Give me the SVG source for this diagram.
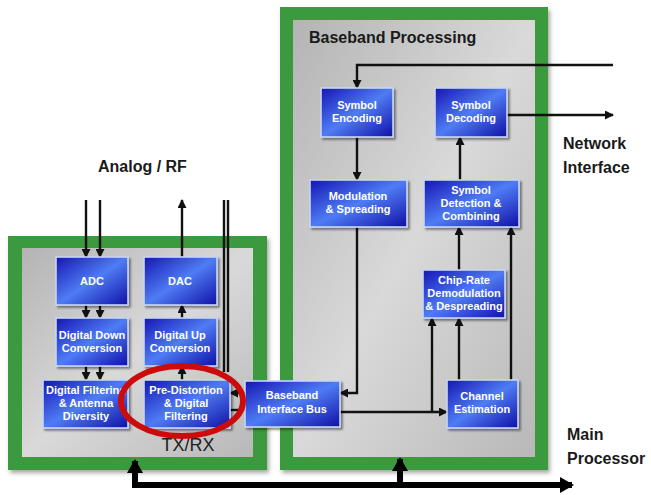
<svg xmlns="http://www.w3.org/2000/svg" width="651" height="495" viewBox="0 0 651 495">
  <style>
    .frame { fill: #3a9a3c; }
    .panel { fill: url(#panelGrad); }
    .blk { fill: url(#blkGrad); stroke: #c9d6f2; stroke-width: 1.6; filter: url(#shadow); }
    .blk-t { font-family: "Liberation Sans", Arial, sans-serif; font-weight: bold; font-size: 11px; fill: #ffffff; text-anchor: middle; }
    .lbl { font-family: "Liberation Sans", Arial, sans-serif; font-weight: bold; font-size: 16px; fill: #1a1a1a; }
    .wire { fill: none; stroke: #111; stroke-width: 2.4; }
    .arr { marker-end: url(#head); }
    .bus { fill: none; stroke: #000; stroke-width: 6; }
  </style>
  <defs>
    <linearGradient id="blkGrad" x1="0" y1="0" x2="1" y2="1">
      <stop offset="0" stop-color="#1616b4"/>
      <stop offset="0.5" stop-color="#4f7cf4"/>
      <stop offset="1" stop-color="#1010a6"/>
    </linearGradient>
    <linearGradient id="panelGrad" x1="0" y1="0" x2="1" y2="1">
      <stop offset="0" stop-color="#b4b4b4"/>
      <stop offset="0.5" stop-color="#d9d9d9"/>
      <stop offset="1" stop-color="#b8b8b8"/>
    </linearGradient>
    <filter id="shadow" x="-10%" y="-10%" width="130%" height="130%">
      <feDropShadow dx="2" dy="2" stdDeviation="1.2" flood-color="#000" flood-opacity="0.45"/>
    </filter>
    <filter id="frameShadow" x="-5%" y="-5%" width="115%" height="115%">
      <feDropShadow dx="2" dy="3" stdDeviation="2" flood-color="#000" flood-opacity="0.35"/>
    </filter>
    <marker id="head" markerUnits="userSpaceOnUse" markerWidth="9" markerHeight="9" refX="8" refY="4.5" orient="auto">
      <path d="M0,0 L9,4.5 L0,9 z" fill="#111"/>
    </marker>
    <marker id="bigHead" markerUnits="userSpaceOnUse" markerWidth="14" markerHeight="16" refX="12" refY="8" orient="auto">
      <path d="M0,0 L14,8 L0,16 z" fill="#000"/>
    </marker>
  </defs>

  <rect width="651" height="495" fill="#ffffff"/>

  <!-- TX/RX frame -->
  <g id="txrx">
    <rect class="frame" x="8" y="236" width="259" height="234" filter="url(#frameShadow)"/>
    <rect class="panel" x="22" y="248" width="231" height="209"/>
    <text x="188" y="451" font-family="Liberation Sans, Arial, sans-serif" font-size="18" fill="#222" text-anchor="middle">TX/RX</text>
  </g>

  <!-- Baseband frame -->
  <g id="baseband">
    <rect class="frame" x="280" y="7" width="268" height="463" filter="url(#frameShadow)"/>
    <rect class="panel" x="293" y="20" width="242" height="437"/>
    <text x="309" y="43" class="lbl" font-size="17">Baseband Processing</text>
  </g>

  <!-- External labels -->
  <g id="labels">
    <text x="98" y="172" class="lbl">Analog / RF</text>
    <text x="563" y="149" class="lbl">Network</text>
    <text x="563" y="173" class="lbl">Interface</text>
    <text x="567" y="440" class="lbl">Main</text>
    <text x="567" y="464" class="lbl">Processor</text>
  </g>

  <!-- Connectors -->
  <g id="connectors">
    <path class="wire arr" d="M613,65 H357 V88"/>
    <path class="wire arr" d="M507,115 H613"/>
    <path class="wire arr" d="M357,137 V180"/>
    <path class="wire arr" d="M460,180 V137"/>
    <path class="wire arr" d="M357,227 V393 H340"/>
    <path class="wire arr" d="M340,412 H447"/>
    <path class="wire arr" d="M432,412 V318"/>
    <path class="wire arr" d="M459,380 V318"/>
    <path class="wire arr" d="M459,270 V227"/>
    <path class="wire arr" d="M511,380 V227"/>

    <path class="wire arr" d="M86,200 V257"/>
    <path class="wire arr" d="M100,200 V257"/>
    <path class="wire arr" d="M86,305 V318"/>
    <path class="wire arr" d="M100,305 V318"/>
    <path class="wire arr" d="M86,366 V380"/>
    <path class="wire arr" d="M100,366 V380"/>
    <path class="wire arr" d="M182,257 V200"/>
    <path class="wire arr" d="M182,318 V305"/>
    <path class="wire arr" d="M182,380 V366"/>
    <path class="wire" stroke-width="1.6" d="M224,200 V372 M228,200 V372"/>
    <path class="wire arr" d="M245,393 H230"/>
    <path class="wire" d="M230,410 H245"/>

    <path class="bus" d="M133,485 H572" marker-end="url(#bigHead)"/>
    <path class="bus" d="M135,488 V461" marker-end="url(#bigHead)"/>
    <path class="bus" d="M400,488 V459" marker-end="url(#bigHead)"/>
  </g>

  <!-- Blocks -->
  <g id="adc"><rect class="blk" x="56" y="257" width="72" height="48"/><text class="blk-t" x="92" y="285">ADC</text></g>
  <g id="dac"><rect class="blk" x="144" y="257" width="73" height="48"/><text class="blk-t" x="180" y="285">DAC</text></g>
  <g id="ddc"><rect class="blk" x="56" y="318" width="72" height="48"/><text class="blk-t" x="92" y="339">Digital Down</text><text class="blk-t" x="92" y="352">Conversion</text></g>
  <g id="duc"><rect class="blk" x="144" y="318" width="73" height="48"/><text class="blk-t" x="180" y="339">Digital Up</text><text class="blk-t" x="180" y="352">Conversion</text></g>
  <g id="dfilt"><rect class="blk" x="43" y="380" width="85" height="48"/><text class="blk-t" x="86" y="394">Digital Filtering</text><text class="blk-t" x="86" y="407">&amp; Antenna</text><text class="blk-t" x="86" y="420">Diversity</text></g>
  <g id="predist"><rect class="blk" x="144" y="380" width="86" height="48"/><text class="blk-t" x="186" y="394">Pre-Distortion</text><text class="blk-t" x="186" y="407">&amp; Digital</text><text class="blk-t" x="186" y="420">Filtering</text></g>
  <g id="bbus"><rect class="blk" x="245" y="381" width="95" height="46"/><text class="blk-t" x="292" y="399">Baseband</text><text class="blk-t" x="292" y="413">Interface Bus</text></g>

  <g id="symenc"><rect class="blk" x="321" y="88" width="72" height="49"/><text class="blk-t" x="357" y="109">Symbol</text><text class="blk-t" x="357" y="122">Encoding</text></g>
  <g id="symdec"><rect class="blk" x="435" y="88" width="72" height="49"/><text class="blk-t" x="471" y="109">Symbol</text><text class="blk-t" x="471" y="122">Decoding</text></g>
  <g id="modspread"><rect class="blk" x="310" y="180" width="97" height="47"/><text class="blk-t" x="358" y="200">Modulation</text><text class="blk-t" x="358" y="213">&amp; Spreading</text></g>
  <g id="symdet"><rect class="blk" x="424" y="180" width="95" height="47"/><text class="blk-t" x="471" y="194">Symbol</text><text class="blk-t" x="471" y="207">Detection &amp;</text><text class="blk-t" x="471" y="220">Combining</text></g>
  <g id="chiprate"><rect class="blk" x="423" y="270" width="82" height="48"/><text class="blk-t" x="464" y="284">Chip-Rate</text><text class="blk-t" x="464" y="297">Demodulation</text><text class="blk-t" x="464" y="310">&amp; Despreading</text></g>
  <g id="chest"><rect class="blk" x="447" y="380" width="71" height="48"/><text class="blk-t" x="482" y="400">Channel</text><text class="blk-t" x="482" y="413">Estimation</text></g>

  <!-- Highlight ring -->
  <ellipse id="highlight" cx="182" cy="401" rx="61" ry="35" fill="none" stroke="#cc0c0c" stroke-width="6"/>
</svg>
